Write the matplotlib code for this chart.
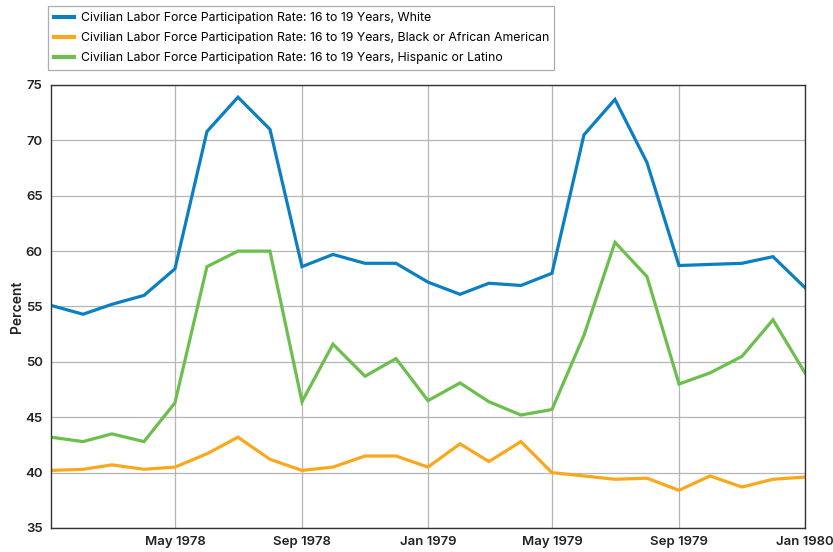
import numpy as np
import pandas as pd
import matplotlib
matplotlib.use("Agg")
import matplotlib.pyplot as plt

# monthly observations, Jan 1978 .. Jan 1980
dates = pd.date_range("1978-01-01", "1980-01-01", freq="MS")

white = [55.1, 54.3, 55.2, 56.0, 58.4, 70.8, 73.9, 71.0, 58.6, 59.7, 58.9, 58.9,
         57.2, 56.1, 57.1, 56.9, 58.0, 70.5, 73.7, 68.0, 58.7, 58.8, 58.9, 59.5,
         56.7]
black = [40.2, 40.3, 40.7, 40.3, 40.5, 41.7, 43.2, 41.2, 40.2, 40.5, 41.5, 41.5,
         40.5, 42.6, 41.0, 42.8, 40.0, 39.7, 39.4, 39.5, 38.4, 39.7, 38.7, 39.4,
         39.6]
hispanic = [43.2, 42.8, 43.5, 42.8, 46.3, 58.6, 60.0, 60.0, 46.4, 51.6, 48.7, 50.3,
            46.5, 48.1, 46.4, 45.2, 45.7, 52.4, 60.8, 57.7, 48.0, 49.0, 50.5, 53.8,
            49.0]

labels = [
    "Civilian Labor Force Participation Rate: 16 to 19 Years, White",
    "Civilian Labor Force Participation Rate: 16 to 19 Years, Black or African American",
    "Civilian Labor Force Participation Rate: 16 to 19 Years, Hispanic or Latino",
]
colors = ["#0a7fc2", "#fba71b", "#6cbf4c"]

tick_dates = pd.to_datetime(["1978-05-01", "1978-09-01", "1979-01-01",
                             "1979-05-01", "1979-09-01", "1980-01-01"])
tick_labels = ["May 1978", "Sep 1978", "Jan 1979", "May 1979", "Sep 1979", "Jan 1980"]

plt.rcParams['font.family'] = ['Inter', 'DejaVu Sans']

fig = plt.figure(figsize=(8.33, 5.52), dpi=100)
ax = fig.add_axes([51 / 833, 24 / 552, 754 / 833, 443 / 552])

for series, c, lab in zip([white, black, hispanic], colors, labels):
    ax.plot(dates, series, color=c, lw=2.3, label=lab, solid_joinstyle="miter")

ax.set_xlim(dates[0], dates[-1])
ax.set_ylim(35, 75)
ax.set_yticks(np.arange(35, 76, 5))
ax.set_xticks(tick_dates)
ax.set_xticklabels(tick_labels)

ax.grid(True, color="#b5b5b5", lw=0.9)
ax.set_axisbelow(True)
for s in ax.spines.values():
    s.set_color("#333333")
    s.set_linewidth(1.0)
ax.tick_params(length=0, labelsize=9.5, colors="#222222", pad=6)
for t in ax.get_xticklabels() + ax.get_yticklabels():
    t.set_fontweight("semibold")
ax.set_ylabel("Percent", fontsize=10, fontweight="semibold", color="#222222", labelpad=0.5)

leg = ax.legend(loc="lower left", bbox_to_anchor=(-0.004, 1.034), frameon=True,
                fancybox=False, fontsize=8.85, handlelength=1.7, handletextpad=0.5,
                borderpad=0.45, labelspacing=0.67, borderaxespad=0)
leg.get_frame().set_edgecolor("#999999")
leg.get_frame().set_linewidth(0.9)
for line in leg.get_lines():
    line.set_linewidth(3)

fig.savefig("out.png", dpi=100)
